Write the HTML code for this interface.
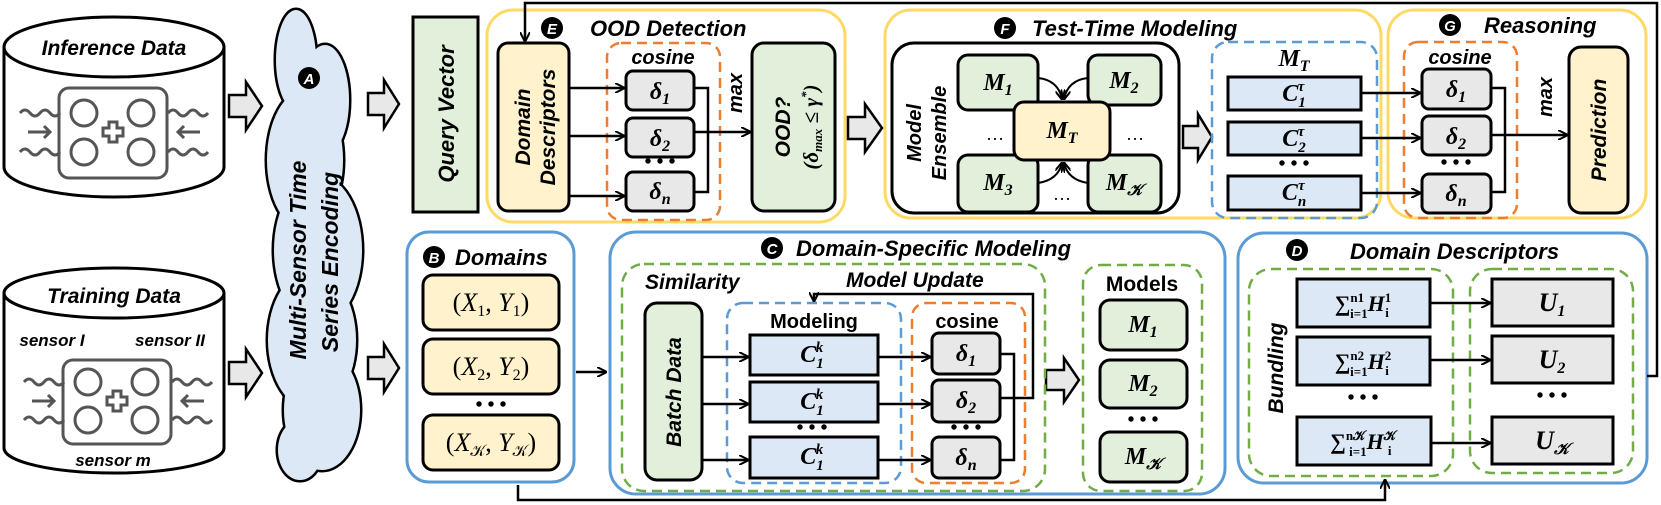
<!DOCTYPE html>
<html><head><meta charset="utf-8"><style>
html,body{margin:0;padding:0;background:#fff}
svg{display:block}
.t{font-family:"Liberation Sans",sans-serif;font-weight:bold;font-style:italic;fill:#000}
.m{font-family:"Liberation Serif",serif;font-style:italic;font-weight:bold;fill:#000}
</style></head><body>
<svg width="1661" height="505" viewBox="0 0 1661 505" xmlns="http://www.w3.org/2000/svg">
<defs>
<marker id="ah" markerWidth="10" markerHeight="10" refX="9" refY="5" orient="auto" markerUnits="userSpaceOnUse">
<path d="M0,0 L10,5 L0,10" fill="none" stroke="#000" stroke-width="2"/></marker>
</defs>

<!-- Cylinders -->
<g stroke="#000" stroke-width="3" fill="#fff">
<path d="M4,47 L4,167 A110,30 0 0 0 224,167 L224,47"/>
<ellipse cx="114" cy="47" rx="110" ry="30"/>
<path d="M4,293 L4,448 A110,25 0 0 0 224,448 L224,293"/>
<ellipse cx="114" cy="293" rx="110" ry="25"/>
</g>
<text class="t" x="114" y="55" font-size="21" text-anchor="middle">Inference Data</text>
<text class="t" x="114" y="303" font-size="21" text-anchor="middle">Training Data</text>
<text class="t" x="52" y="346" font-size="17" text-anchor="middle">sensor I</text>
<text class="t" x="170" y="346" font-size="17" text-anchor="middle">sensor II</text>
<text class="t" x="113" y="466" font-size="17" text-anchor="middle">sensor m</text>
<!-- icons -->
<g stroke="#555" stroke-width="3" fill="none">
<rect x="59" y="88" width="108" height="90" rx="10"/>
<circle cx="84" cy="113" r="13"/><circle cx="141" cy="113" r="13"/>
<circle cx="84" cy="152" r="13"/><circle cx="141" cy="152" r="13"/>
<path d="M109,122 h8 v6 h6 v8 h-6 v6 h-8 v-6 h-6 v-8 h6z"/>
<path d="M20,113 q5,-6 10,0 t10,0 t10,0 t10,0 M20,152 q5,-6 10,0 t10,0 t10,0 t10,0 M28,132 h22 M44,126 l6,6 -6,6"/>
<path d="M168,113 q5,-6 10,0 t10,0 t10,0 t10,0 M168,152 q5,-6 10,0 t10,0 t10,0 t10,0 M178,132 h22 M184,126 l-6,6 6,6"/>
<rect x="63" y="360" width="108" height="84" rx="10"/>
<circle cx="88" cy="382" r="13"/><circle cx="145" cy="382" r="13"/>
<circle cx="88" cy="420" r="13"/><circle cx="145" cy="420" r="13"/>
<path d="M113,391 h8 v6 h6 v8 h-6 v6 h-8 v-6 h-6 v-8 h6z"/>
<path d="M24,382 q5,-6 10,0 t10,0 t10,0 t10,0 M24,420 q5,-6 10,0 t10,0 t10,0 t10,0 M32,401 h22 M48,395 l6,6 -6,6"/>
<path d="M172,382 q5,-6 10,0 t10,0 t10,0 t10,0 M172,420 q5,-6 10,0 t10,0 t10,0 t10,0 M182,401 h22 M188,395 l-6,6 6,6"/>
</g>

<!-- block arrows -->
<g fill="#e8e8e8" stroke="#000" stroke-width="2.5">
<path d="M229,95 h17 v-13 l16,24 -16,24 v-13 h-17z"/>
<path d="M229,362 h17 v-13 l16,24 -16,24 v-13 h-17z"/>
<path d="M368,93 h16 v-13 l15,24 -15,24 v-13 h-16z"/>
<path d="M368,357 h16 v-13 l15,24 -15,24 v-13 h-16z"/>
<path d="M848,117 h17 v-13 l17,24 -17,24 v-13 h-17z"/>
<path d="M1183,126 h15 v-12 l14,23 -14,23 v-12 h-15z"/>
<path d="M1046,370 h18 v-12 l15,22 -15,22 v-12 h-18z"/>
</g>

<!-- cloud -->
<g stroke="#000" stroke-width="5">
<ellipse cx="296" cy="60" rx="20" ry="50"/><ellipse cx="325" cy="100" rx="24" ry="55"/>
<ellipse cx="305" cy="160" rx="38" ry="70"/><ellipse cx="318" cy="250" rx="44" ry="75"/>
<ellipse cx="312" cy="340" rx="44" ry="70"/><ellipse cx="322" cy="410" rx="38" ry="60"/>
<ellipse cx="300" cy="450" rx="22" ry="30"/>
</g>
<g fill="#dce8f5">
<ellipse cx="296" cy="60" rx="20" ry="50"/><ellipse cx="325" cy="100" rx="24" ry="55"/>
<ellipse cx="305" cy="160" rx="38" ry="70"/><ellipse cx="318" cy="250" rx="44" ry="75"/>
<ellipse cx="312" cy="340" rx="44" ry="70"/><ellipse cx="322" cy="410" rx="38" ry="60"/>
<ellipse cx="300" cy="450" rx="22" ry="30"/>
</g>
<circle cx="309" cy="78" r="11" fill="#000"/><text x="309" y="84" font-size="15" text-anchor="middle" class="t" style="fill:#fff">A</text>
<text class="t" font-size="23" text-anchor="middle" transform="translate(306,260) rotate(-90)">Multi-Sensor Time</text>
<text class="t" font-size="23" text-anchor="middle" transform="translate(338,262) rotate(-90)">Series Encoding</text>

<!-- Query vector -->
<rect x="413" y="17" width="65" height="195" fill="#e2efda" stroke="#000" stroke-width="3"/>
<text class="t" font-size="22" text-anchor="middle" transform="translate(454,114) rotate(-90)">Query Vector</text>

<!-- E box -->
<rect x="487" y="10" width="358" height="212" rx="26" fill="none" stroke="#ffd966" stroke-width="3"/>
<circle cx="552" cy="28" r="11" fill="#000"/><text class="t" x="552" y="34" font-size="15" text-anchor="middle" style="fill:#fff">E</text>
<text class="t" x="590" y="36" font-size="22">OOD Detection</text>
<rect x="498" y="43" width="71" height="168" rx="10" fill="#fff2cc" stroke="#000" stroke-width="3"/>
<text class="t" font-size="21" text-anchor="middle" transform="translate(530,127) rotate(-90)">Domain</text>
<text class="t" font-size="21" text-anchor="middle" transform="translate(555,127) rotate(-90)">Descriptors</text>
<rect x="607" y="43" width="113" height="177" rx="14" fill="none" stroke="#ed7d31" stroke-width="2.5" stroke-dasharray="10,6"/>
<text class="t" x="663" y="64" font-size="20" text-anchor="middle">cosine</text>
<g fill="#e8e8e8" stroke="#000" stroke-width="3">
<rect x="626" y="71" width="68" height="39" rx="7"/><rect x="626" y="118" width="68" height="39" rx="7"/><rect x="626" y="172" width="68" height="39" rx="7"/>
</g>
<g class="m" font-size="24" text-anchor="middle"><text x="660" y="99">δ<tspan font-size="16" dy="5">1</tspan></text><text x="660" y="146">δ<tspan font-size="16" dy="5">2</tspan></text><text x="660" y="199">δ<tspan font-size="16" dy="5">n</tspan></text></g>
<text x="660" y="168" font-size="20" text-anchor="middle" font-weight="bold">• • •</text>
<g stroke="#000" stroke-width="2.5" fill="none">
<path d="M569,88 H624" marker-end="url(#ah)"/><path d="M569,136 H624" marker-end="url(#ah)"/><path d="M569,196 H624" marker-end="url(#ah)"/>
<path d="M694,88 H708 V192 H694"/><path d="M694,132 H750" marker-end="url(#ah)"/>
</g>
<text class="t" font-size="20" text-anchor="middle" transform="translate(742,93) rotate(-90)">max</text>
<rect x="752" y="43" width="83" height="168" rx="12" fill="#e2efda" stroke="#000" stroke-width="3"/>
<text class="t" font-size="21" text-anchor="middle" transform="translate(790,127) rotate(-90)">OOD?</text>
<text class="m" font-size="21" text-anchor="middle" font-weight="normal" transform="translate(818,127) rotate(-90)">(δ<tspan font-size="13" dy="4">max</tspan><tspan dy="-4"> ≤ γ</tspan><tspan font-size="13" dy="-8">*</tspan><tspan dy="8">)</tspan></text>

<!-- F box -->
<rect x="885" y="10" width="496" height="208" rx="26" fill="none" stroke="#ffd966" stroke-width="3"/>
<circle cx="1005" cy="28" r="11" fill="#000"/><text class="t" x="1005" y="34" font-size="15" text-anchor="middle" style="fill:#fff">F</text>
<text class="t" x="1032" y="36" font-size="22">Test-Time Modeling</text>
<rect x="892" y="43" width="287" height="170" rx="22" fill="#fff" stroke="#000" stroke-width="3"/>
<text class="t" font-size="20" text-anchor="middle" transform="translate(921,133) rotate(-90)">Model</text>
<text class="t" font-size="20" text-anchor="middle" transform="translate(946,133) rotate(-90)">Ensemble</text>
<g fill="#e2efda" stroke="#000" stroke-width="3">
<rect x="958" y="55" width="80" height="55" rx="10"/><rect x="1088" y="55" width="73" height="50" rx="10"/>
<rect x="958" y="155" width="80" height="57" rx="10"/><rect x="1088" y="155" width="73" height="57" rx="10"/>
</g>
<g stroke="#000" stroke-width="2" fill="none">
<path d="M1038,78 Q1058,80 1062,99" marker-end="url(#ah)"/><path d="M1088,78 Q1068,80 1064,99" marker-end="url(#ah)"/>
<path d="M1038,183 Q1058,180 1062,163" marker-end="url(#ah)"/><path d="M1088,183 Q1068,180 1064,163" marker-end="url(#ah)"/>
</g>
<rect x="1014" y="102" width="96" height="58" rx="10" fill="#fff2cc" stroke="#000" stroke-width="3"/>
<g class="m" font-size="24" text-anchor="middle">
<text x="998" y="90">M<tspan font-size="16" dy="5">1</tspan></text>
<text x="1124" y="88">M<tspan font-size="16" dy="5">2</tspan></text>
<text x="998" y="190">M<tspan font-size="16" dy="5">3</tspan></text>
<text x="1124" y="190">M<tspan font-size="16" dy="5">𝒦</tspan></text>
<text x="1062" y="138">M<tspan font-size="16" dy="5">T</tspan></text>
</g>
<g font-size="18" text-anchor="middle"><text x="995" y="140">…</text><text x="1135" y="140">…</text><text x="1062" y="200">…</text></g>
<rect x="1212" y="42" width="165" height="176" rx="16" fill="none" stroke="#5b9bd5" stroke-width="2.5" stroke-dasharray="10,6"/>
<text class="m" x="1294" y="66" font-size="24" text-anchor="middle">M<tspan font-size="16" dy="5">T</tspan></text>
<g fill="#dce8f5" stroke="#000" stroke-width="3">
<rect x="1228" y="77" width="133" height="33"/><rect x="1228" y="122" width="133" height="33"/><rect x="1228" y="176" width="133" height="34"/>
</g>
<g class="m" font-size="24" text-anchor="middle">
<text x="1294" y="101">C<tspan font-size="15" dy="6">1</tspan><tspan font-size="15" dx="-8" dy="-16">τ</tspan></text>
<text x="1294" y="146">C<tspan font-size="15" dy="6">2</tspan><tspan font-size="15" dx="-8" dy="-16">τ</tspan></text>
<text x="1294" y="200">C<tspan font-size="15" dy="6">n</tspan><tspan font-size="15" dx="-8" dy="-16">τ</tspan></text>
</g>
<text x="1294" y="170" font-size="20" text-anchor="middle" font-weight="bold">• • •</text>

<!-- G box -->
<rect x="1388" y="10" width="258" height="208" rx="26" fill="none" stroke="#ffd966" stroke-width="3"/>
<circle cx="1450" cy="25" r="11" fill="#000"/><text class="t" x="1450" y="31" font-size="15" text-anchor="middle" style="fill:#fff">G</text>
<text class="t" x="1484" y="33" font-size="22">Reasoning</text>
<rect x="1404" y="42" width="113" height="176" rx="14" fill="none" stroke="#ed7d31" stroke-width="2.5" stroke-dasharray="10,6"/>
<text class="t" x="1460" y="64" font-size="20" text-anchor="middle">cosine</text>
<g fill="#e8e8e8" stroke="#000" stroke-width="3">
<rect x="1422" y="69" width="69" height="40" rx="7"/><rect x="1422" y="116" width="69" height="39" rx="7"/><rect x="1422" y="174" width="69" height="39" rx="7"/>
</g>
<g class="m" font-size="24" text-anchor="middle"><text x="1456" y="97">δ<tspan font-size="16" dy="5">1</tspan></text><text x="1456" y="144">δ<tspan font-size="16" dy="5">2</tspan></text><text x="1456" y="201">δ<tspan font-size="16" dy="5">n</tspan></text></g>
<text x="1456" y="169" font-size="20" text-anchor="middle" font-weight="bold">• • •</text>
<g stroke="#000" stroke-width="2.5" fill="none">
<path d="M1361,93 H1420" marker-end="url(#ah)"/><path d="M1361,138 H1420" marker-end="url(#ah)"/><path d="M1361,193 H1420" marker-end="url(#ah)"/>
<path d="M1491,88 H1505 V192 H1491"/><path d="M1491,135 H1567" marker-end="url(#ah)"/>
</g>
<text class="t" font-size="20" text-anchor="middle" transform="translate(1552,97) rotate(-90)">max</text>
<rect x="1569" y="47" width="59" height="166" rx="12" fill="#fff2cc" stroke="#000" stroke-width="3"/>
<text class="t" font-size="21" text-anchor="middle" transform="translate(1606,130) rotate(-90)">Prediction</text>

<!-- B box -->
<rect x="407" y="232" width="167" height="250" rx="22" fill="none" stroke="#5b9bd5" stroke-width="3"/>
<circle cx="434" cy="257" r="11" fill="#000"/><text class="t" x="434" y="263" font-size="15" text-anchor="middle" style="fill:#fff">B</text>
<text class="t" x="455" y="265" font-size="22">Domains</text>
<g fill="#fff2cc" stroke="#000" stroke-width="3">
<rect x="423" y="275" width="136" height="55" rx="10"/><rect x="423" y="339" width="136" height="55" rx="10"/><rect x="423" y="415" width="136" height="55" rx="10"/>
</g>
<g font-family="Liberation Serif,serif" font-size="26" text-anchor="middle">
<text x="491" y="311">(<tspan font-style="italic">X</tspan><tspan font-size="16" dy="5">1</tspan><tspan dy="-5">, </tspan><tspan font-style="italic">Y</tspan><tspan font-size="16" dy="5">1</tspan><tspan dy="-5">)</tspan></text>
<text x="491" y="375">(<tspan font-style="italic">X</tspan><tspan font-size="16" dy="5">2</tspan><tspan dy="-5">, </tspan><tspan font-style="italic">Y</tspan><tspan font-size="16" dy="5">2</tspan><tspan dy="-5">)</tspan></text>
<text x="491" y="451">(<tspan font-style="italic">X</tspan><tspan font-size="16" dy="5">𝒦</tspan><tspan dy="-5">, </tspan><tspan font-style="italic">Y</tspan><tspan font-size="16" dy="5">𝒦</tspan><tspan dy="-5">)</tspan></text>
</g>
<text x="491" y="411" font-size="20" text-anchor="middle" font-weight="bold">• • •</text>

<!-- C box -->
<rect x="610" y="232" width="615" height="262" rx="26" fill="none" stroke="#5b9bd5" stroke-width="3"/>
<path d="M576,372 H606" stroke="#000" stroke-width="2.5" marker-end="url(#ah)"/>
<circle cx="772" cy="248" r="11" fill="#000"/><text class="t" x="772" y="254" font-size="15" text-anchor="middle" style="fill:#fff">C</text>
<text class="t" x="796" y="256" font-size="22">Domain-Specific Modeling</text>
<rect x="622" y="264" width="423" height="227" rx="22" fill="none" stroke="#70ad47" stroke-width="2.5" stroke-dasharray="10,6"/>
<text class="t" x="645" y="289" font-size="21">Similarity</text>
<text class="t" x="846" y="287" font-size="21">Model Update</text>
<rect x="645" y="303" width="57" height="177" rx="12" fill="#e2efda" stroke="#000" stroke-width="3"/>
<text class="t" font-size="21" text-anchor="middle" transform="translate(681,392) rotate(-90)">Batch Data</text>
<rect x="727" y="303" width="174" height="180" rx="16" fill="none" stroke="#5b9bd5" stroke-width="2.5" stroke-dasharray="10,6"/>
<text class="t" x="814" y="328" font-size="20" text-anchor="middle" style="font-style:normal">Modeling</text>
<g fill="#dce8f5" stroke="#000" stroke-width="3">
<rect x="750" y="335" width="128" height="40"/><rect x="750" y="382" width="128" height="40"/><rect x="750" y="437" width="128" height="41"/>
</g>
<g class="m" font-size="24" text-anchor="middle">
<text x="812" y="362">C<tspan font-size="15" dy="6">1</tspan><tspan font-size="15" dx="-8" dy="-16">k</tspan></text>
<text x="812" y="409">C<tspan font-size="15" dy="6">1</tspan><tspan font-size="15" dx="-8" dy="-16">k</tspan></text>
<text x="812" y="464">C<tspan font-size="15" dy="6">1</tspan><tspan font-size="15" dx="-8" dy="-16">k</tspan></text>
</g>
<text x="812" y="434" font-size="20" text-anchor="middle" font-weight="bold">• • •</text>
<rect x="912" y="303" width="113" height="180" rx="14" fill="none" stroke="#ed7d31" stroke-width="2.5" stroke-dasharray="10,6"/>
<text class="t" x="967" y="328" font-size="20" text-anchor="middle" style="font-style:normal">cosine</text>
<g fill="#e8e8e8" stroke="#000" stroke-width="3">
<rect x="932" y="333" width="68" height="41" rx="7"/><rect x="932" y="380" width="68" height="42" rx="7"/><rect x="932" y="437" width="68" height="41" rx="7"/>
</g>
<g class="m" font-size="24" text-anchor="middle"><text x="966" y="361">δ<tspan font-size="16" dy="5">1</tspan></text><text x="966" y="408">δ<tspan font-size="16" dy="5">2</tspan></text><text x="966" y="465">δ<tspan font-size="16" dy="5">n</tspan></text></g>
<text x="966" y="434" font-size="20" text-anchor="middle" font-weight="bold">• • •</text>
<g stroke="#000" stroke-width="2.5" fill="none">
<path d="M702,357 H748" marker-end="url(#ah)"/><path d="M702,404 H748" marker-end="url(#ah)"/><path d="M702,460 H748" marker-end="url(#ah)"/>
<path d="M878,357 H930" marker-end="url(#ah)"/><path d="M878,404 H930" marker-end="url(#ah)"/><path d="M878,460 H930" marker-end="url(#ah)"/>
<path d="M1000,354 H1014 V460 H1000"/><path d="M1000,398 H1033 V294 H814 V301" marker-end="url(#ah)"/>
</g>
<rect x="1083" y="265" width="119" height="226" rx="18" fill="none" stroke="#70ad47" stroke-width="2.5" stroke-dasharray="10,6"/>
<text class="t" x="1142" y="291" font-size="21" text-anchor="middle" style="font-style:normal">Models</text>
<g fill="#e2efda" stroke="#000" stroke-width="3">
<rect x="1100" y="300" width="87" height="50" rx="10"/><rect x="1100" y="360" width="87" height="48" rx="10"/><rect x="1100" y="432" width="87" height="50" rx="10"/>
</g>
<g class="m" font-size="24" text-anchor="middle">
<text x="1143" y="332">M<tspan font-size="16" dy="5">1</tspan></text>
<text x="1143" y="391">M<tspan font-size="16" dy="5">2</tspan></text>
<text x="1143" y="464">M<tspan font-size="16" dy="5">𝒦</tspan></text>
</g>
<text x="1143" y="426" font-size="20" text-anchor="middle" font-weight="bold">• • •</text>

<!-- D box -->
<rect x="1238" y="233" width="409" height="250" rx="26" fill="none" stroke="#5b9bd5" stroke-width="3"/>
<circle cx="1297" cy="250" r="11" fill="#000"/><text class="t" x="1297" y="256" font-size="15" text-anchor="middle" style="fill:#fff">D</text>
<text class="t" x="1350" y="259" font-size="22">Domain Descriptors</text>
<rect x="1249" y="269" width="204" height="207" rx="22" fill="none" stroke="#70ad47" stroke-width="2.5" stroke-dasharray="10,6"/>
<text class="t" font-size="21" text-anchor="middle" transform="translate(1283,368) rotate(-90)">Bundling</text>
<g fill="#dce8f5" stroke="#000" stroke-width="3">
<rect x="1297" y="279" width="133" height="48"/><rect x="1297" y="337" width="133" height="48"/><rect x="1297" y="417" width="134" height="48"/>
</g>
<g font-family="Liberation Serif,serif" font-size="22" text-anchor="middle" font-weight="bold">
<text x="1363" y="311">∑<tspan font-size="13" dy="-9">n1</tspan><tspan font-size="13" dx="-14" dy="16">i=1</tspan><tspan font-style="italic" dy="-7">H</tspan><tspan font-size="13" dy="-9">1</tspan><tspan font-size="13" dx="-6" dy="15">i</tspan></text>
<text x="1363" y="369">∑<tspan font-size="13" dy="-9">n2</tspan><tspan font-size="13" dx="-14" dy="16">i=1</tspan><tspan font-style="italic" dy="-7">H</tspan><tspan font-size="13" dy="-9">2</tspan><tspan font-size="13" dx="-6" dy="15">i</tspan></text>
<text x="1363" y="449">∑<tspan font-size="13" dy="-9">n𝒦</tspan><tspan font-size="13" dx="-16" dy="16">i=1</tspan><tspan font-style="italic" dy="-7">H</tspan><tspan font-size="13" dy="-9">𝒦</tspan><tspan font-size="13" dx="-8" dy="15">i</tspan></text>
</g>
<text x="1363" y="404" font-size="20" text-anchor="middle" font-weight="bold">• • •</text>
<rect x="1470" y="269" width="163" height="204" rx="22" fill="none" stroke="#70ad47" stroke-width="2.5" stroke-dasharray="10,6"/>
<g fill="#e8e8e8" stroke="#000" stroke-width="3">
<rect x="1492" y="279" width="121" height="47"/><rect x="1492" y="336" width="121" height="47"/><rect x="1492" y="417" width="121" height="47"/>
</g>
<g class="m" font-size="26" text-anchor="middle">
<text x="1552" y="311">U<tspan font-size="16" dy="5">1</tspan></text>
<text x="1552" y="368">U<tspan font-size="16" dy="5">2</tspan></text>
<text x="1552" y="449">U<tspan font-size="16" dy="5">𝒦</tspan></text>
</g>
<text x="1552" y="402" font-size="20" text-anchor="middle" font-weight="bold">• • •</text>
<g stroke="#000" stroke-width="2.5" fill="none">
<path d="M1430,303 H1490" marker-end="url(#ah)"/><path d="M1430,360 H1490" marker-end="url(#ah)"/><path d="M1431,443 H1490" marker-end="url(#ah)"/>
<path d="M1647,376 H1657 V3 H525 V41" marker-end="url(#ah)"/>
<path d="M518,485 V500 H1385 V480" marker-end="url(#ah)"/>
</g>
</svg>
</body></html>
